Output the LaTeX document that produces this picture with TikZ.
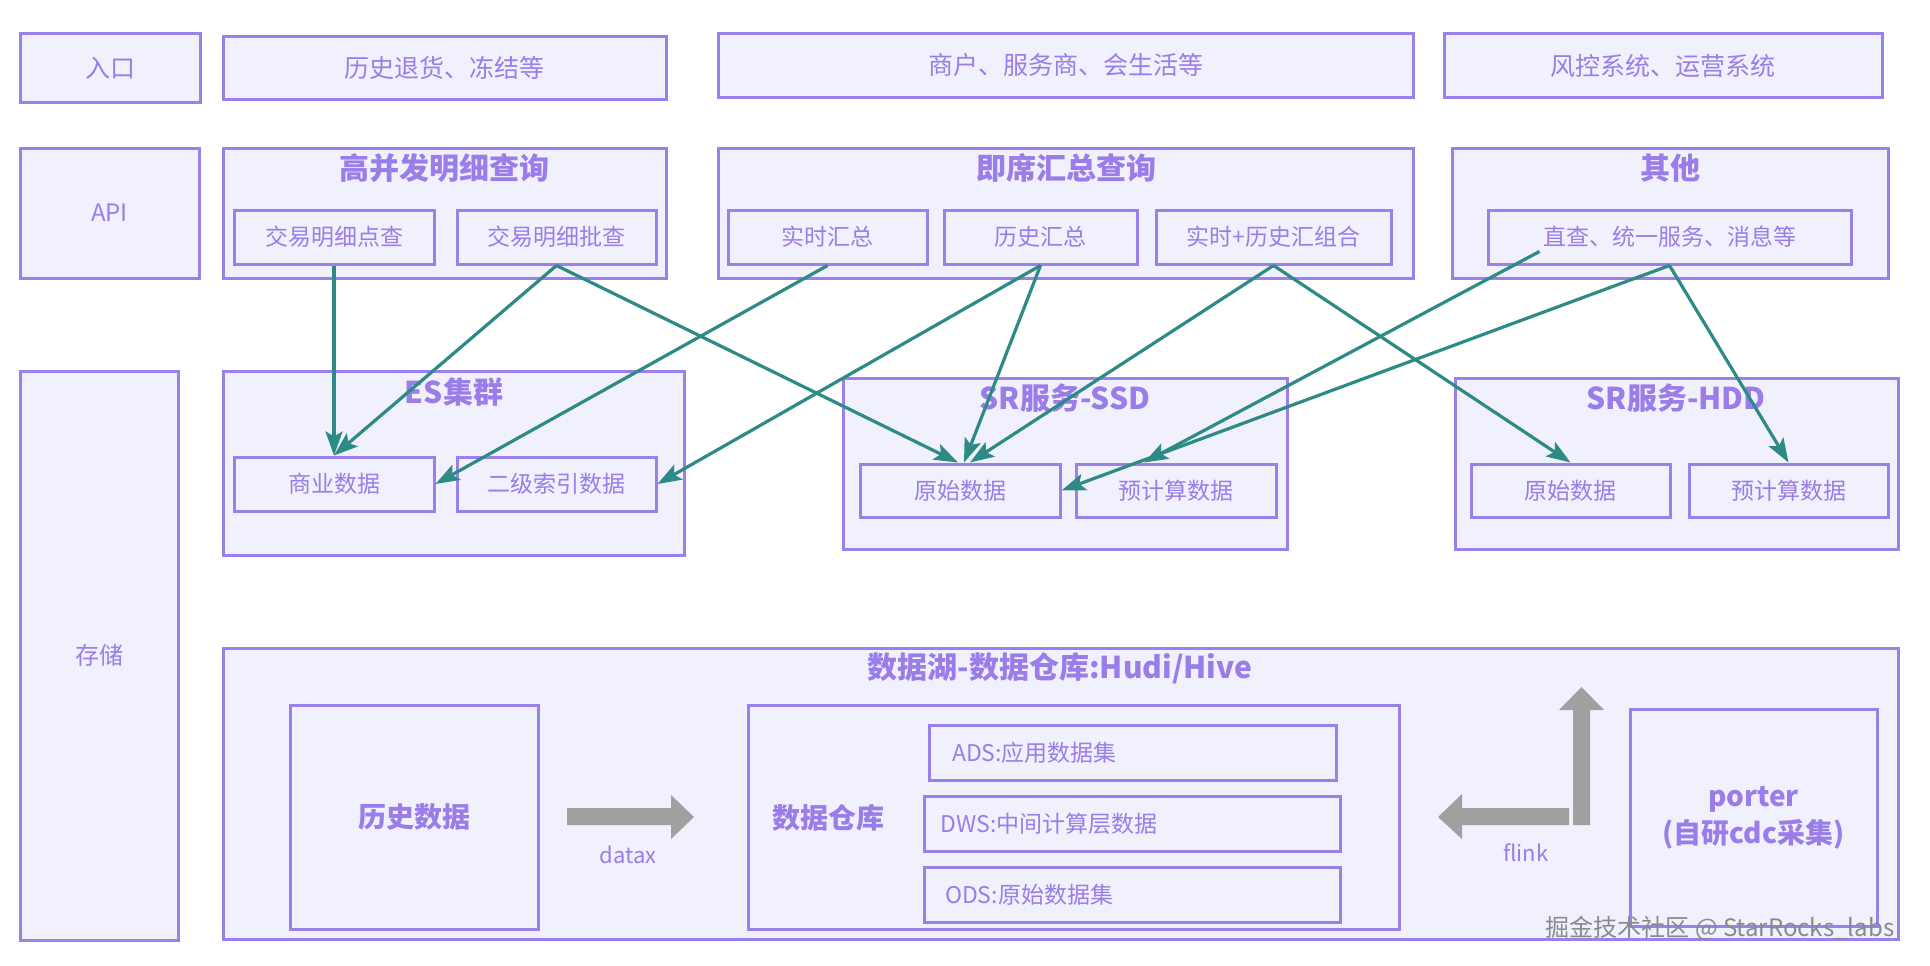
\documentclass[tikz,border=0pt]{standalone}
\usepackage{fontspec}
\setmainfont{Noto Sans CJK SC}
\usetikzlibrary{arrows.meta}
\definecolor{bd}{HTML}{9B80EC}
\definecolor{fl}{HTML}{F1F0FD}
\definecolor{tx}{HTML}{9A7DE8}
\definecolor{tl}{HTML}{2E8A85}
\definecolor{gr}{HTML}{A0A0A0}
\definecolor{wm}{HTML}{8A8A8A}
\tikzset{
  box/.style={draw=bd, fill=fl, line width=3pt, inner sep=0pt, text=tx, align=center},
  ftop/.style={font=\fontsize{25}{30}\selectfont},
  fin/.style={font=\fontsize{23}{27}\selectfont},
  fside/.style={font=\fontsize{24}{28}\selectfont},
  ttl/.style={text=tx, inner sep=0pt, font=\bfseries\fontsize{30}{35}\selectfont},
  big/.style={font=\bfseries\fontsize{28}{36}\selectfont},
  porterf/.style={font=\bfseries\fontsize{28}{37}\selectfont},
  lbl/.style={text=tx, inner sep=0pt, font=\fontsize{22}{26}\selectfont},
  arr/.style={draw=tl, line width=3.2pt, -{Stealth[length=24pt,width=17pt,inset=5pt]}},
  blk/.style={fill=gr, draw=none}
}
\newcommand\bx[7][]{\node[box,#1,minimum width={(#5-#3)*1pt},minimum height={(#6-#4)*1pt}] (#2) at ({(#3+#5)/2},{(#4+#6)/2}) {#7};}
\begin{document}
\begin{tikzpicture}[x=1pt,y=-1pt]
\useasboundingbox (0,0) rectangle (1930,966);
% row 1: entry
\bx[ftop]{entry}{20}{34}{200}{102}{入口}
\bx[ftop]{e1}{223}{37}{666}{99}{历史退货、冻结等}
\bx[ftop]{e2}{718}{34}{1413}{97}{商户、服务商、会生活等}
\bx[ftop]{e3}{1444}{34}{1882}{97}{风控系统、运营系统}
% row 2: API
\bx[fside]{api}{20}{148}{199}{278}{API}
\bx{gbf}{223}{148}{666}{278}{}
\bx{jx}{718}{148}{1413}{278}{}
\bx{qt}{1452}{148}{1888}{278}{}
\node[ttl] (gbft) at (444,168) {高并发明细查询};
\node[ttl] (jxt) at (1066,168) {即席汇总查询};
\node[ttl] (qtt) at (1670,168) {其他};
\bx[fin]{dc}{234}{210}{434}{264}{交易明细点查}
\bx[fin]{pc}{457}{210}{656}{264}{交易明细批查}
\bx[fin]{sshz}{728}{210}{927}{264}{实时汇总}
\bx[fin]{lshz}{944}{210}{1137}{264}{历史汇总}
\bx[fin]{zh}{1156}{210}{1391}{264}{实时+历史汇组合}
\bx[fin]{zc}{1488}{210}{1851}{264}{直查、统一服务、消息等}
% storage
\bx[fside]{store}{20}{371}{178}{940}{存储}
\bx{es}{223}{371}{684}{555}{}
\bx{ssd}{843}{378}{1287}{549}{}
\bx{hdd}{1455}{378}{1898}{549}{}
\node[ttl] (est) at (454,392) {ES集群};
\node[ttl] (ssdt) at (1065,398) {SR服务-SSD};
\node[ttl] (hddt) at (1676,398) {SR服务-HDD};
\bx[fin]{syj}{234}{457}{434}{511}{商业数据}
\bx[fin]{ejsy}{457}{457}{656}{511}{二级索引数据}
\bx[fin]{ssdraw}{860}{464}{1060}{517}{原始数据}
\bx[fin]{ssdpre}{1076}{464}{1276}{517}{预计算数据}
\bx[fin]{hddraw}{1471}{464}{1670}{517}{原始数据}
\bx[fin]{hddpre}{1689}{464}{1888}{517}{预计算数据}
% data lake
\bx{lake}{223}{648}{1898}{939}{}
\node[ttl] (laket) at (1060,668) {数据湖-数据仓库:Hudi/Hive};
\bx[big]{hist}{290}{705}{538}{929}{历史数据}
\bx{dw}{748}{705}{1399}{929}{}
\node[text=tx, inner sep=0pt, big] (dwt) at (828,818) {数据仓库};
\bx[fin]{ads}{929}{725}{1336}{780}{\hspace*{-196pt}ADS:应用数据集}
\bx[fin]{dws}{924}{796}{1340}{851}{\hspace*{-166pt}DWS:中间计算层数据}
\bx[fin]{ods}{924}{867}{1340}{922}{\hspace*{-206pt}ODS:原始数据集}
\bx[porterf]{porter}{1630}{709}{1877}{926}{porter\\(自研cdc采集)}
% gray block arrows
\fill[blk] (567,808) -- (671,808) -- (671,795) -- (694,817) -- (671,839) -- (671,825) -- (567,825) -- cycle;
\fill[blk] (1569,808) -- (1462,808) -- (1462,794) -- (1438,817) -- (1462,839) -- (1462,825) -- (1569,825) -- cycle;
\fill[blk] (1573,825) -- (1573,710) -- (1559,710) -- (1581.5,687) -- (1604,710) -- (1590,710) -- (1590,825) -- cycle;
\node[lbl] (datax) at (628,855) {datax};
\node[lbl] (flink) at (1526,853) {flink};
% connectors
\draw[arr] (dc.south) -- (syj.north);
\draw[arr] (pc.south) -- (syj.north);
\draw[arr] (pc.south) -- ([xshift=-2pt]ssdraw.north);
\draw[arr] (sshz.south) -- (syj.east);
\draw[arr] (lshz.south) -- (ejsy.east);
\draw[arr] (lshz.south) -- ([xshift=4pt]ssdraw.north);
\draw[arr] (zh.south) -- ([xshift=10pt]ssdraw.north);
\draw[arr] (zh.south) -- (hddraw.north);
\draw[arr] ([xshift=-130pt,yshift=14pt]zc.south) -- ([xshift=-32pt]ssdpre.north);
\draw[arr] (zc.south) -- (ssdraw.east);
\draw[arr] (zc.south) -- (hddpre.north);
% watermark
\node[text=wm, inner sep=0pt, font=\fontsize{24}{28}\selectfont] (wmk) at (1720,928) {掘金技术社区 @ StarRocks\_labs};
\end{tikzpicture}
\end{document}
